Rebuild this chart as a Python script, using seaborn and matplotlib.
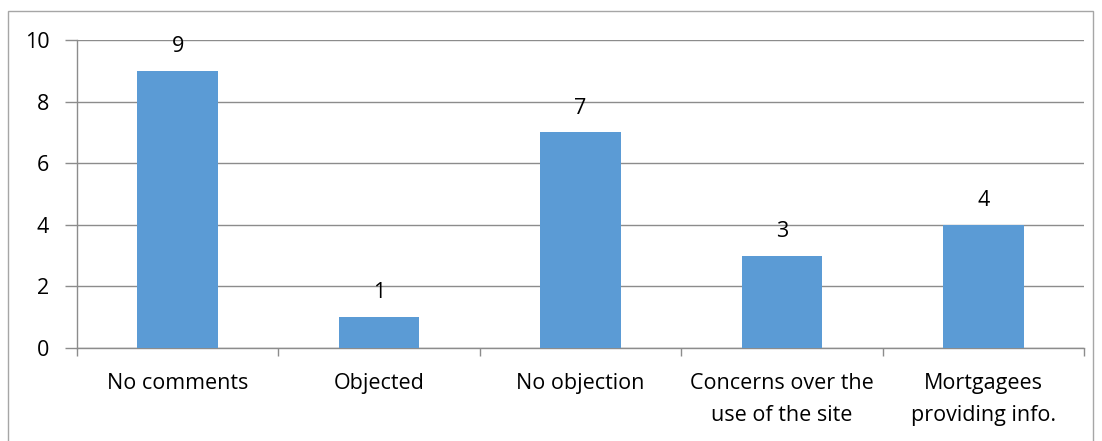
import numpy as np
import pandas as pd
import seaborn as sns
import matplotlib.pyplot as plt
from matplotlib.patches import Rectangle

# data
categories = ['No comments', 'Objected', 'No objection',
              'Concerns over the\nuse of the site', 'Mortgagees\nproviding info.']
counts = [9, 1, 7, 3, 4]
yticks = [0, 2, 4, 6, 8, 10]

df = pd.DataFrame({'Category': categories, 'Count': counts})

sns.set_style('white')
plt.rcParams['font.family'] = ['Open Sans', 'DejaVu Sans']
plt.rcParams['text.color'] = 'black'
plt.rcParams['xtick.labelcolor'] = 'black'
plt.rcParams['ytick.labelcolor'] = 'black'
grey = '#8c8c8c'
fs = 15.5

fig = plt.figure(figsize=(11.02, 4.41), dpi=100)
ax = fig.add_axes([77 / 1102, 1 - 348 / 441, (1084 - 77) / 1102, (348 - 40) / 441])

sns.barplot(data=df, x='Category', y='Count', color='#5b9bd5', width=0.4,
            saturation=1, linewidth=0, ax=ax, zorder=3)

ax.set_ylim(0, 10)
ax.set_xlim(-0.5, len(categories) - 0.5)
ax.set_yticks(yticks)
ax.set_yticklabels([str(t) for t in yticks], fontsize=fs)
ax.yaxis.grid(True, color=grey, linewidth=1)
ax.set_axisbelow(True)
ax.tick_params(axis='y', length=9, color=grey, width=1, pad=11, left=True)
ax.tick_params(axis='x', which='major', length=0, labelsize=fs, pad=18)
for lbl in ax.get_xticklabels():
    lbl.set_linespacing(1.7)
ax.set_xticks(np.arange(-0.5, len(categories)), minor=True)
ax.tick_params(axis='x', which='minor', length=6, color=grey, width=1, bottom=True)
ax.set_xlabel('')
ax.set_ylabel('')

for s in ['top', 'right']:
    ax.spines[s].set_visible(False)
for s in ['left', 'bottom']:
    ax.spines[s].set_color(grey)
    ax.spines[s].set_linewidth(1)

for i, v in enumerate(counts):
    ax.annotate(str(v), (i, v), xytext=(0, 10), textcoords='offset points',
                ha='center', va='bottom', fontsize=fs)

# outer chart border like the spreadsheet frame
fig.patches.append(Rectangle((8 / 1102, -0.05), (1093 - 8) / 1102, 1.05 - 11 / 441,
                             transform=fig.transFigure, fill=False,
                             edgecolor='#a6a6a6', linewidth=1))

fig.savefig('out.png', dpi=100)
